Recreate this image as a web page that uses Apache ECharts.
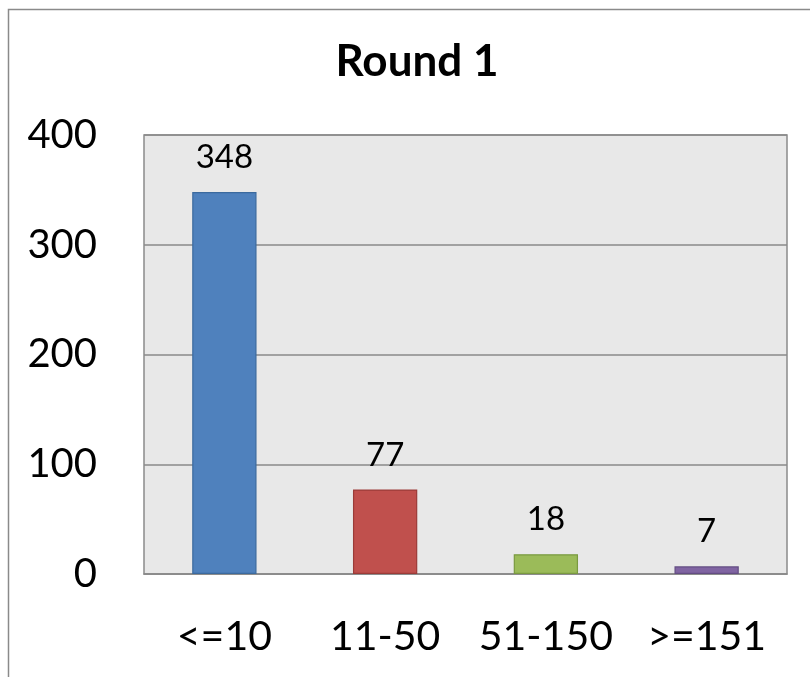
<!DOCTYPE html>
<html><head><meta charset="utf-8">
<script src="https://cdn.jsdelivr.net/npm/echarts@6/dist/echarts.min.js"></script>
<style>html,body{margin:0;padding:0;background:#fff;}#c{width:810px;height:677px;}</style>
</head><body><div id="c"></div>
<script>
const categories = ['<=10', '11-50', '51-150', '>=151'];
const values = [348, 77, 18, 7];
const colors = ['#4F81BD', '#C0504D', '#9BBB59', '#8064A2'];
const borders = ['#3B6A9E', '#9B3B38', '#7A9A40', '#634D83'];
const yTicks = [0, 100, 200, 300, 400];
const FONT = 'Lato, "Open Sans", sans-serif';
const chart = echarts.init(document.getElementById('c'));
chart.setOption({
  animation: false,
  title: {text: 'Round 1', left: 412, top: 35, textAlign: 'center',
    textStyle: {fontFamily: FONT, fontSize: 44, fontWeight: 'bold', color: '#000'}},
  graphic: [{type: 'rect', shape: {x: 8.5, y: 9.5, width: 1000, height: 1000},
    style: {fill: 'none', stroke: '#8a8a8a', lineWidth: 1.5}, silent: true}],
  grid: {left: 144, top: 135, width: 643, height: 439, show: true,
    backgroundColor: '#e8e8e8', borderColor: '#8a8a8a', borderWidth: 1.5},
  xAxis: {type: 'category', data: categories,
    axisLine: {lineStyle: {color: '#8a8a8a', width: 1.5}}, axisTick: {show: false},
    axisLabel: {interval: 0, hideOverlap: false, fontFamily: FONT, fontSize: 41, color: '#000', margin: 42}},
  yAxis: {type: 'value', min: 0, max: 400, interval: 100,
    axisLine: {show: false}, axisTick: {show: false},
    splitLine: {lineStyle: {color: '#8a8a8a', width: 1.5}},
    axisLabel: {fontFamily: FONT, fontSize: 40, color: '#000', margin: 47,
      formatter: v => yTicks.includes(v) ? String(v) : ''}},
  series: [{type: 'bar', barWidth: '40%',
    data: values.map((v, i) => ({value: v, itemStyle: {color: colors[i], borderColor: borders[i], borderWidth: 1.2}})),
    label: {show: true, position: 'top', distance: 18, fontFamily: FONT, fontSize: 33, color: '#000'}}]
});
</script></body></html>
